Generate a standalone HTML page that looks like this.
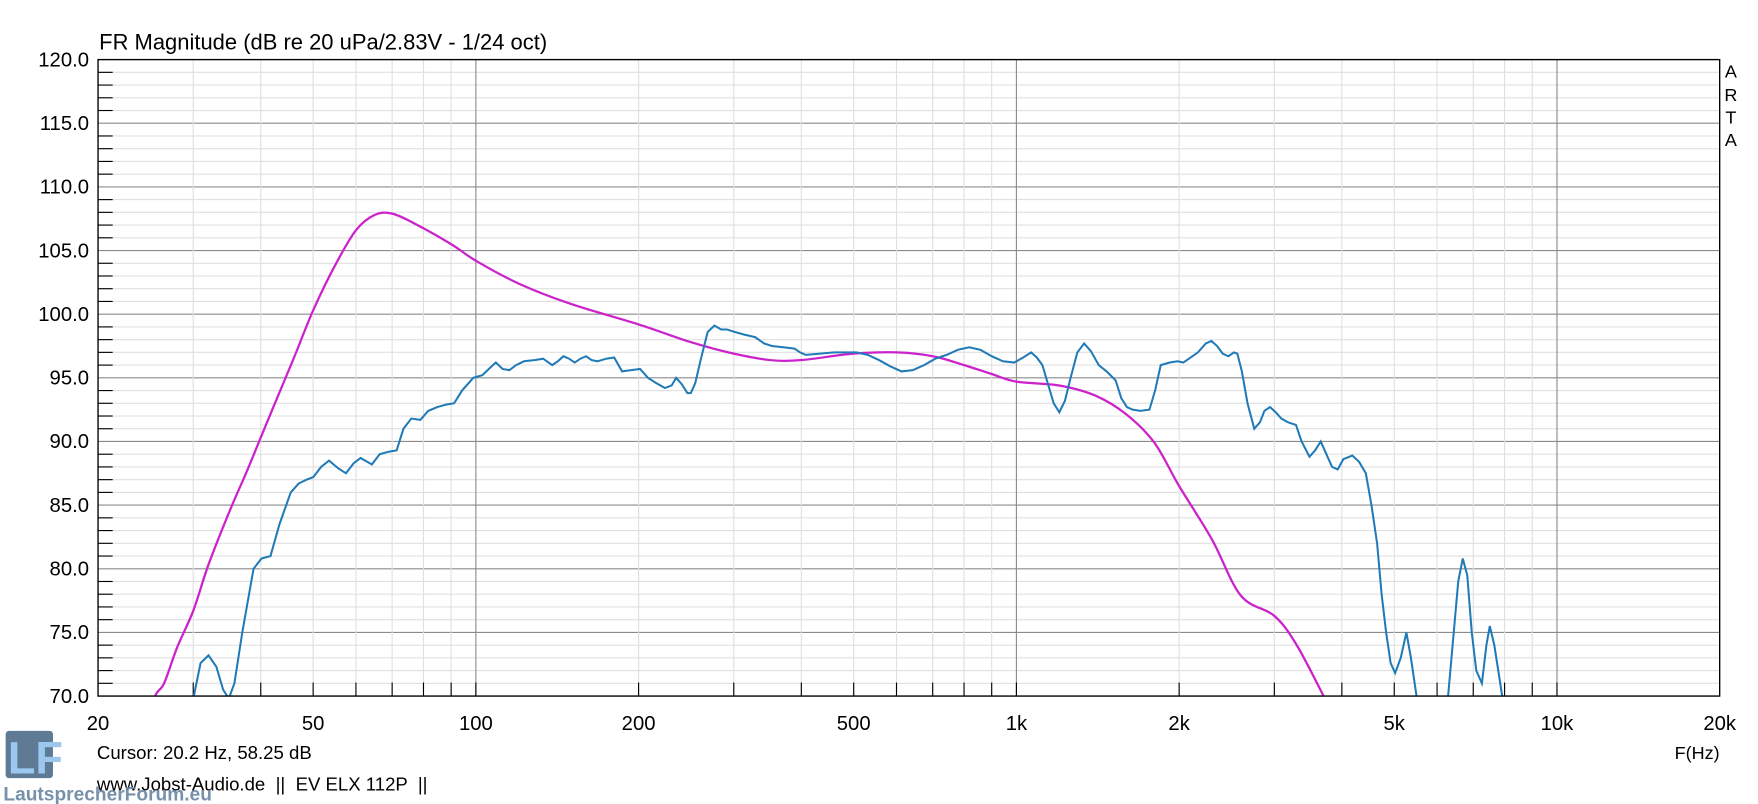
<!DOCTYPE html>
<html><head><meta charset="utf-8"><style>
html,body{margin:0;padding:0;background:#fff;}
svg{display:block;}
text{font-family:"Liberation Sans",Arial,sans-serif;fill:#000;white-space:pre;}
</style></head><body>
<svg id="s" width="1758" height="804" viewBox="0 0 1560 715" preserveAspectRatio="none" xmlns="http://www.w3.org/2000/svg" xml:space="preserve">
<rect width="1560" height="715" fill="#fff"/>
<g id="grid"></g>
<g id="curves" clip-path="url(#cp)"></g>
<defs><clipPath id="cp"><rect x="87" y="53" width="1439" height="566"/></clipPath></defs>
<rect x="87" y="53" width="1439" height="566" fill="none" stroke="#000" stroke-width="1.2"/>
<g id="labels"></g>
<text x="88" y="44" font-size="19.5">FR Magnitude (dB re 20 uPa/2.83V - 1/24 oct)</text>
<text x="1536" y="69" font-size="16" text-anchor="middle">A</text>
<text x="1536" y="90" font-size="16" text-anchor="middle">R</text>
<text x="1536" y="110" font-size="16" text-anchor="middle">T</text>
<text x="1536" y="130" font-size="16" text-anchor="middle">A</text>
<text x="1526" y="675" font-size="16" text-anchor="end">F(Hz)</text>
<text x="86" y="675" font-size="16.5">Cursor: 20.2 Hz, 58.25 dB</text>
<text x="86" y="703" font-size="16.5">www.Jobst-Audio.de  ||  EV ELX 112P  ||</text>
<rect x="5" y="650" width="42" height="42" rx="3" fill="#5f7a95"/>
<text x="7" y="688" font-size="40" font-weight="bold" style="fill:#9cc8f0">LF</text>
<text x="3" y="712" font-size="17" font-weight="bold" style="fill:#6a86a2;opacity:0.9">LautsprecherForum.eu</text>
</svg>
<script>
const NS="http://www.w3.org/2000/svg";
const X=f=>87+479.67*Math.log10(f/20), Y=d=>53+(120-d)*11.32;
const g=document.getElementById('grid'),lb=document.getElementById('labels'),cv=document.getElementById('curves');
function el(p,t,a,txt){const e=document.createElementNS(NS,t);for(const k in a)e.setAttribute(k,a[k]);if(txt)e.textContent=txt;p.appendChild(e);return e;}
for(let d=70;d<=120;d++){const y=Y(d);const maj=d%5==0;
 el(g,'line',{x1:87,x2:1526,y1:y,y2:y,stroke:maj?'#8c8c8c':'#e0e0e0','stroke-width':1});
 if(!maj)el(g,'line',{x1:87,x2:100,y1:y,y2:y,stroke:'#000','stroke-width':1});
 if(maj)el(lb,'text',{x:79,y:y+6,'font-size':18,'text-anchor':'end'},d.toFixed(1));}
const fs=[];for(const dec of [10,100,1000,10000])for(let m=1;m<10;m++){const f=m*dec;if(f>20&&f<20000)fs.push(f);}
fs.forEach(f=>{const x=X(f);const maj=(f==100||f==1000||f==10000);
 el(g,'line',{x1:x,x2:x,y1:53,y2:619,stroke:maj?'#8c8c8c':'#e0e0e0','stroke-width':1});
 el(g,'line',{x1:x,x2:x,y1:607,y2:619,stroke:'#000','stroke-width':1});});
[[20,'20'],[50,'50'],[100,'100'],[200,'200'],[500,'500'],[1000,'1k'],[2000,'2k'],[5000,'5k'],[10000,'10k'],[20000,'20k']].forEach(([f,t])=>el(lb,'text',{x:X(f),y:649,'font-size':18,'text-anchor':'middle'},t));
function smooth(pts){let d='M'+pts[0][0]+','+pts[0][1];
 for(let i=0;i<pts.length-1;i++){const p0=pts[Math.max(0,i-1)],p1=pts[i],p2=pts[i+1],p3=pts[Math.min(pts.length-1,i+2)];
  const c1=[p1[0]+(p2[0]-p0[0])/6,p1[1]+(p2[1]-p0[1])/6],c2=[p2[0]-(p3[0]-p1[0])/6,p2[1]-(p3[1]-p1[1])/6];
  d+=' C'+c1.map(v=>v.toFixed(1))+' '+c2.map(v=>v.toFixed(1))+' '+p2.map(v=>v.toFixed(1));}
 return d;}
const mag=[[24,67],[25.5,70],[26.5,71],[28,73.8],[30,76.7],[32,80.3],[35,84.5],[38,88],[42,92.5],[46,96.5],[50,100.3],[55,103.9],[60,106.6],[65,107.8],[70,107.9],[78,107],[90,105.5],[100,104.2],[120,102.4],[150,100.8],[200,99.2],[250,97.8],[300,96.9],[350,96.4],[400,96.4],[500,96.9],[600,97],[700,96.7],[800,96],[900,95.3],[1000,94.7],[1200,94.4],[1400,93.6],[1600,92.1],[1800,89.9],[2000,86.5],[2300,82.3],[2600,77.9],[3000,76.3],[3300,74],[3700,70],[3900,68]];
el(cv,'path',{d:smooth(mag.map(p=>[X(p[0]),Y(p[1])])),fill:'none',stroke:'#cc22cc','stroke-width':2});
const bl=[[170,68],[172,70],[178,72.6],[185,73.2],[192,72.3],[198,70.5],[203,69.8],[208,71],[215,75],[225,80],[232,80.8],[240,81],[248,83.5],[258,86],[265,86.7],[272,87],[278,87.2],[285,88],[292,88.5],[300,87.9],[307,87.5],[314,88.3],[320,88.7],[326,88.4],[330,88.2],[337,89],[345,89.2],[352,89.3],[358,91],[365,91.8],[373,91.7],[380,92.4],[388,92.7],[396,92.9],[403,93],[410,94],[420,95],[428,95.2],[435,95.8],[440,96.2],[446,95.7],[452,95.6],[458,96],[465,96.3],[475,96.4],[482,96.5],[490,96],[495,96.3],[500,96.7],[505,96.5],[510,96.2],[515,96.5],[520,96.7],[525,96.4],[530,96.3],[538,96.5],[545,96.6],[552,95.5],[560,95.6],[568,95.7],[575,95],[582,94.6],[590,94.2],[596,94.4],[600,95],[605,94.5],[610,93.8],[613,93.8],[617,94.6],[622,96.5],[628,98.6],[634,99.1],[640,98.8],[645,98.8],[652,98.6],[660,98.4],[670,98.2],[678,97.7],[685,97.5],[695,97.4],[705,97.3],[710,97],[715,96.8],[728,96.9],[740,97],[750,97],[760,97],[770,96.8],[780,96.4],[790,95.9],[800,95.5],[810,95.6],[820,96],[830,96.5],[840,96.8],[850,97.2],[860,97.4],[870,97.2],[880,96.7],[890,96.3],[900,96.2],[908,96.6],[915,97],[920,96.6],[925,96],[930,94.5],[935,93],[940,92.3],[945,93.2],[950,95],[956,97],[962,97.7],[968,97.1],[975,96],[982,95.5],[990,94.8],[995,93.4],[1000,92.7],[1005,92.5],[1012,92.4],[1020,92.5],[1025,94],[1030,96],[1038,96.2],[1045,96.3],[1050,96.2],[1055,96.5],[1063,97],[1070,97.7],[1075,97.9],[1080,97.5],[1085,96.9],[1090,96.7],[1095,97],[1098,96.9],[1102,95.5],[1107,93],[1113,91],[1118,91.5],[1122,92.4],[1127,92.7],[1132,92.3],[1137,91.8],[1143,91.5],[1150,91.3],[1155,90],[1162,88.8],[1167,89.3],[1172,90],[1177,89],[1182,88],[1187,87.8],[1192,88.6],[1200,88.9],[1206,88.4],[1212,87.5],[1217,85],[1222,82],[1226,78],[1230,75],[1234,72.6],[1238,71.8],[1243,73],[1248,75],[1252,73],[1257,70],[1262,67],[1278,67],[1285,70],[1290,75],[1294,79],[1298,80.8],[1302,79.5],[1306,75],[1310,72],[1315,71],[1319,74],[1322,75.5],[1326,74],[1333,70],[1336,67]];
el(cv,'polyline',{points:bl.map(p=>p[0]+','+Y(p[1]).toFixed(1)).join(' '),fill:'none',stroke:'#1f7ab8','stroke-width':1.8});
</script>
</body></html>
